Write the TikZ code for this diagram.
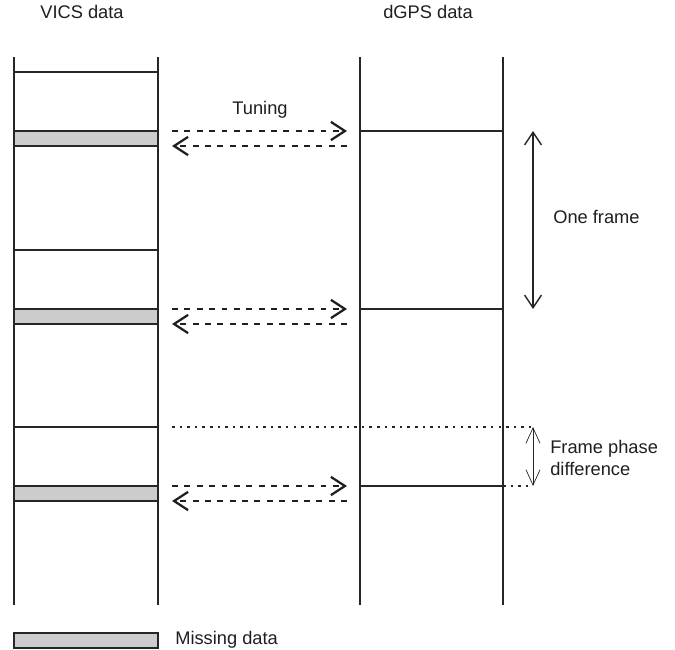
\documentclass[tikz,border=0pt]{standalone}
\usepackage{fontspec}
\setmainfont{Liberation Sans}
\usetikzlibrary{arrows.meta,positioning}

\tikzset{
    rail/.style={draw=black!85, line width=1.1pt},
    missing/.style={draw=black!85, line width=1.2pt, fill=black!20},
    tuning/.style={draw=black!88, line width=2.1pt, dash pattern=on 4.2pt off 4.6pt,
        -{Straight Barb[length=10pt,width=13pt,line width=1.6pt]}},
    span/.style={draw=black!85, line width=1pt,
        {Straight Barb[length=9pt,width=12pt]}-{Straight Barb[length=9pt,width=12pt]}},
    phase/.style={draw=black!85, line width=0.5pt,
        {Straight Barb[length=11pt,width=10pt]}-{Straight Barb[length=11pt,width=10pt]}},
    guide/.style={draw=black!85, line width=1.2pt, dash pattern=on 1.8pt off 3.6pt},
    lbl/.style={text=black!88, font=\fontsize{13}{15.5}\selectfont, inner sep=0pt}
}

\begin{document}
\begin{tikzpicture}[x=0.025cm, y=-0.025cm]
    \useasboundingbox (0,0) rectangle (675,649);

    % titles
    \node[lbl] (vics) at (82,12) {VICS data};
    \node[lbl] (dgps) at (428,12) {dGPS data};

    % columns
    \foreach \x in {14,158,360,503}
        \draw[rail] (\x,57) -- (\x,605);

    % frames: plain line, missing bar, dGPS line, tuning arrows
    \foreach \i/\yl/\yb in {1/72/131, 2/250/309, 3/427/486} {
        \draw[rail] (14,\yl) coordinate (v\i) -- (158,\yl);
        \draw[missing] (14,\yb) rectangle (158,\yb+15);
        \draw[rail] (360,\yb) coordinate (g\i) -- (503,\yb) coordinate (ge\i);
        \coordinate (at\i) at (172,\yb);
        \coordinate (bt\i) at (347,\yb);
        \coordinate (ab\i) at (172,\yb+15);
        \coordinate (bb\i) at (347,\yb+15);
        \draw[tuning] (at\i) -- (bt\i);
        \draw[tuning] (bb\i) -- (ab\i);
    }
    \node[lbl] (tune) at (260,110) {Tuning};

    % one frame
    \coordinate (f1) at (533,131);
    \coordinate (f2) at (533,309);
    \draw[span] (f1) -- (f2);
    \node[lbl, anchor=west] (frame) at (553,217) {One frame};

    % phase difference
    \coordinate (p1) at (533,427);
    \coordinate (p2) at (533,486);
    \draw[guide] (172,427) -- (p1);
    \draw[guide] (ge3) -- (p2);
    \draw[phase] (p1) -- (p2);
    \node[lbl, anchor=west, align=left] (diff) at (550,458) {Frame phase\\difference};

    % legend
    \draw[missing] (14,633) rectangle (158,648);
    \node[lbl, anchor=west] (leg) at (175,640) {Missing data};
\end{tikzpicture}
\end{document}
